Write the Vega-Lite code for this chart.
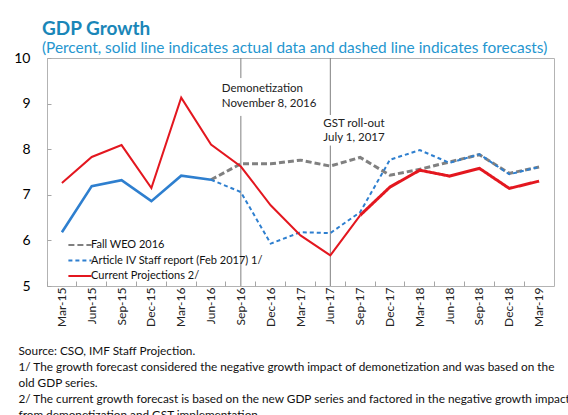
{
  "$schema": "https://vega.github.io/schema/vega-lite/v6.json",
  "autosize": {"type": "none"},
  "width": 507,
  "height": 228,
  "padding": {"left": 47, "top": 58, "right": 14, "bottom": 129},
  "background": "white",
  "config": {
    "font": "Lato",
    "view": {"stroke": "#b3b3b3", "strokeWidth": 1},
    "legend": {"padding": 0}
  },
  "title": {
    "text": "GDP Growth",
    "subtitle": "(Percent, solid line indicates actual data and dashed line indicates forecasts)",
    "anchor": "start",
    "frame": "group",
    "dx": -5,
    "offset": -5,
    "font": "Lato",
    "fontSize": 19,
    "fontWeight": "bold",
    "color": "#1a86b8",
    "subtitleFont": "Lato",
    "subtitleFontSize": 15.4,
    "subtitleColor": "#2596cf",
    "subtitlePadding": 2
  },
  "datasets": {
    "lines": [
      {"q": "Jun-16", "series": "Fall WEO 2016", "seg": "dash", "v": 7.33},
      {"q": "Sep-16", "series": "Fall WEO 2016", "seg": "dash", "v": 7.68},
      {"q": "Dec-16", "series": "Fall WEO 2016", "seg": "dash", "v": 7.68},
      {"q": "Mar-17", "series": "Fall WEO 2016", "seg": "dash", "v": 7.76},
      {"q": "Jun-17", "series": "Fall WEO 2016", "seg": "dash", "v": 7.63},
      {"q": "Sep-17", "series": "Fall WEO 2016", "seg": "dash", "v": 7.82},
      {"q": "Dec-17", "series": "Fall WEO 2016", "seg": "dash", "v": 7.43},
      {"q": "Mar-18", "series": "Fall WEO 2016", "seg": "dash", "v": 7.56},
      {"q": "Jun-18", "series": "Fall WEO 2016", "seg": "dash", "v": 7.72},
      {"q": "Sep-18", "series": "Fall WEO 2016", "seg": "dash", "v": 7.88},
      {"q": "Dec-18", "series": "Fall WEO 2016", "seg": "dash", "v": 7.47},
      {"q": "Mar-19", "series": "Fall WEO 2016", "seg": "dash", "v": 7.61},

      {"q": "Mar-15", "series": "Article IV Staff report (Feb 2017) 1/", "seg": "solid", "v": 6.18},
      {"q": "Jun-15", "series": "Article IV Staff report (Feb 2017) 1/", "seg": "solid", "v": 7.19},
      {"q": "Sep-15", "series": "Article IV Staff report (Feb 2017) 1/", "seg": "solid", "v": 7.32},
      {"q": "Dec-15", "series": "Article IV Staff report (Feb 2017) 1/", "seg": "solid", "v": 6.86},
      {"q": "Mar-16", "series": "Article IV Staff report (Feb 2017) 1/", "seg": "solid", "v": 7.42},
      {"q": "Jun-16", "series": "Article IV Staff report (Feb 2017) 1/", "seg": "solid", "v": 7.33},

      {"q": "Jun-16", "series": "Article IV Staff report (Feb 2017) 1/", "seg": "dash", "v": 7.33},
      {"q": "Sep-16", "series": "Article IV Staff report (Feb 2017) 1/", "seg": "dash", "v": 7.06},
      {"q": "Dec-16", "series": "Article IV Staff report (Feb 2017) 1/", "seg": "dash", "v": 5.93},
      {"q": "Mar-17", "series": "Article IV Staff report (Feb 2017) 1/", "seg": "dash", "v": 6.18},
      {"q": "Jun-17", "series": "Article IV Staff report (Feb 2017) 1/", "seg": "dash", "v": 6.16},
      {"q": "Sep-17", "series": "Article IV Staff report (Feb 2017) 1/", "seg": "dash", "v": 6.62},
      {"q": "Dec-17", "series": "Article IV Staff report (Feb 2017) 1/", "seg": "dash", "v": 7.77},
      {"q": "Mar-18", "series": "Article IV Staff report (Feb 2017) 1/", "seg": "dash", "v": 7.98},
      {"q": "Jun-18", "series": "Article IV Staff report (Feb 2017) 1/", "seg": "dash", "v": 7.70},
      {"q": "Sep-18", "series": "Article IV Staff report (Feb 2017) 1/", "seg": "dash", "v": 7.89},
      {"q": "Dec-18", "series": "Article IV Staff report (Feb 2017) 1/", "seg": "dash", "v": 7.45},
      {"q": "Mar-19", "series": "Article IV Staff report (Feb 2017) 1/", "seg": "dash", "v": 7.61},

      {"q": "Mar-15", "series": "Current Projections  2/", "seg": "solid", "v": 7.26},
      {"q": "Jun-15", "series": "Current Projections  2/", "seg": "solid", "v": 7.83},
      {"q": "Sep-15", "series": "Current Projections  2/", "seg": "solid", "v": 8.09},
      {"q": "Dec-15", "series": "Current Projections  2/", "seg": "solid", "v": 7.15},
      {"q": "Mar-16", "series": "Current Projections  2/", "seg": "solid", "v": 9.13},
      {"q": "Jun-16", "series": "Current Projections  2/", "seg": "solid", "v": 8.10},
      {"q": "Sep-16", "series": "Current Projections  2/", "seg": "solid", "v": 7.62},
      {"q": "Dec-16", "series": "Current Projections  2/", "seg": "solid", "v": 6.77},
      {"q": "Mar-17", "series": "Current Projections  2/", "seg": "solid", "v": 6.11},
      {"q": "Jun-17", "series": "Current Projections  2/", "seg": "solid", "v": 5.67},
      {"q": "Sep-17", "series": "Current Projections  2/", "seg": "solid", "v": 6.55},

      {"q": "Sep-17", "series": "Current Projections  2/", "seg": "dash", "v": 6.55},
      {"q": "Dec-17", "series": "Current Projections  2/", "seg": "dash", "v": 7.17},
      {"q": "Mar-18", "series": "Current Projections  2/", "seg": "dash", "v": 7.54},
      {"q": "Jun-18", "series": "Current Projections  2/", "seg": "dash", "v": 7.41},
      {"q": "Sep-18", "series": "Current Projections  2/", "seg": "dash", "v": 7.58},
      {"q": "Dec-18", "series": "Current Projections  2/", "seg": "dash", "v": 7.14},
      {"q": "Mar-19", "series": "Current Projections  2/", "seg": "dash", "v": 7.30}
    ],
    "rules": [
      {"q": "Sep-16", "y": 10, "y2": 9.56},
      {"q": "Sep-16", "y": 8.73, "y2": 5},
      {"q": "Jun-17", "y": 10, "y2": 8.75},
      {"q": "Jun-17", "y": 8.08, "y2": 5}
    ],
    "notes": [
      {"q": "Sep-16", "y": 9.32, "label": "Demonetization"},
      {"q": "Sep-16", "y": 9.0, "label": "November 8, 2016"},
      {"q": "Jun-17", "y": 8.55, "label": "GST roll-out"},
      {"q": "Jun-17", "y": 8.24, "label": "July 1, 2017"}
    ]
  },
  "encoding": {
    "x": {
      "field": "q",
      "type": "ordinal",
      "scale": {
        "type": "band",
        "paddingInner": 0,
        "paddingOuter": 0,
        "domain": ["Mar-15", "Jun-15", "Sep-15", "Dec-15", "Mar-16", "Jun-16", "Sep-16", "Dec-16", "Mar-17", "Jun-17", "Sep-17", "Dec-17", "Mar-18", "Jun-18", "Sep-18", "Dec-18", "Mar-19"]
      },
      "axis": {
        "bandPosition": 0,
        "domain": false,
        "grid": false,
        "ticks": true,
        "tickSize": -5,
        "tickColor": "#a6a6a6",
        "labelAngle": -90,
        "labelFontSize": 12,
        "labelColor": "#222222",
        "labelPadding": 6,
        "title": [
          "Source: CSO, IMF Staff Projection.",
          "1/ The growth forecast considered the negative growth impact of demonetization and was based on the",
          "old GDP series.",
          "2/ The current growth forecast is based on the new GDP series and factored in the negative growth impact",
          "from demonetization and GST implementation."
        ],
        "titleFont": "Lato",
        "titleFontSize": 11.8,
        "titleFontWeight": "normal",
        "titleColor": "#111111",
        "titleAnchor": "start",
        "titleAlign": "left",
        "titleBaseline": "top",
        "titleX": -29,
        "titleY": 59,
        "titleLineHeight": 16
      }
    }
  },
  "layer": [
    {
      "data": {"name": "rules"},
      "mark": {"type": "rule", "color": "#808080", "strokeWidth": 1},
      "encoding": {
        "y": {"field": "y", "type": "quantitative"},
        "y2": {"field": "y2"}
      }
    },
    {
      "data": {"name": "notes"},
      "mark": {"type": "text", "align": "left", "baseline": "middle", "fontSize": 11.5, "color": "#222222", "dx": -19},
      "transform": [{"filter": "datum.q === 'Sep-16'"}],
      "encoding": {
        "y": {"field": "y", "type": "quantitative"},
        "text": {"field": "label"}
      }
    },
    {
      "data": {"name": "notes"},
      "mark": {"type": "text", "align": "left", "baseline": "middle", "fontSize": 11.5, "color": "#222222", "dx": -7},
      "transform": [{"filter": "datum.q === 'Jun-17'"}],
      "encoding": {
        "y": {"field": "y", "type": "quantitative"},
        "text": {"field": "label"}
      }
    },
    {
      "data": {"name": "lines"},
      "transform": [{"filter": "datum.series === 'Fall WEO 2016' && datum.seg === 'dash'"}],
      "mark": {"type": "line", "strokeWidth": 3},
      "encoding": {
        "y": {"field": "v", "type": "quantitative"},
        "color": {"field": "series", "type": "nominal"},
        "strokeDash": {"field": "series", "type": "nominal"}
      }
    },
    {
      "data": {"name": "lines"},
      "transform": [{"filter": "datum.series === 'Article IV Staff report (Feb 2017) 1/' && datum.seg === 'solid'"}],
      "mark": {"type": "line", "strokeWidth": 2.6},
      "encoding": {
        "y": {"field": "v", "type": "quantitative"},
        "color": {"field": "series", "type": "nominal"}
      }
    },
    {
      "data": {"name": "lines"},
      "transform": [{"filter": "datum.series === 'Article IV Staff report (Feb 2017) 1/' && datum.seg === 'dash'"}],
      "mark": {"type": "line", "strokeWidth": 2},
      "encoding": {
        "y": {"field": "v", "type": "quantitative"},
        "color": {"field": "series", "type": "nominal"},
        "strokeDash": {"field": "series", "type": "nominal"}
      }
    },
    {
      "data": {"name": "lines"},
      "transform": [{"filter": "datum.series === 'Current Projections  2/' && datum.seg === 'solid'"}],
      "mark": {"type": "line", "strokeWidth": 2},
      "encoding": {
        "y": {"field": "v", "type": "quantitative"},
        "color": {"field": "series", "type": "nominal"}
      }
    },
    {
      "data": {"name": "lines"},
      "transform": [{"filter": "datum.series === 'Current Projections  2/' && datum.seg === 'dash'"}],
      "mark": {"type": "line", "strokeWidth": 3, "strokeDash": [11, 6]},
      "encoding": {
        "y": {
          "field": "v",
          "type": "quantitative",
          "scale": {"domain": [5, 10], "nice": false, "zero": false},
          "axis": {
            "values": [5, 6, 7, 8, 9, 10],
            "domain": false,
            "grid": false,
            "ticks": true,
            "tickSize": -4,
            "tickColor": "#a6a6a6",
            "labelFontSize": 14,
            "labelColor": "#000000",
            "labelPadding": 21,
            "title": null
          }
        },
        "color": {
          "field": "series",
          "type": "nominal",
          "scale": {
            "domain": ["Fall WEO 2016", "Article IV Staff report (Feb 2017) 1/", "Current Projections  2/"],
            "range": ["#808080", "#2e7fcf", "#e3171f"]
          },
          "legend": {
            "title": null,
            "orient": "none",
            "legendX": 24,
            "legendY": 178,
            "symbolType": "M-1.45,0L1.45,0",
            "symbolSize": 256,
            "symbolStrokeWidth": 2,
            "labelFontSize": 11,
            "labelColor": "#111111",
            "labelOffset": 2,
            "labelLimit": 400,
            "rowPadding": 1.5
          }
        },
        "strokeDash": {
          "field": "series",
          "type": "nominal",
          "scale": {
            "domain": ["Fall WEO 2016", "Article IV Staff report (Feb 2017) 1/", "Current Projections  2/"],
            "range": [[6, 3], [4, 3], [1, 0]]
          },
          "legend": {"title": null}
        }
      }
    }
  ]
}
